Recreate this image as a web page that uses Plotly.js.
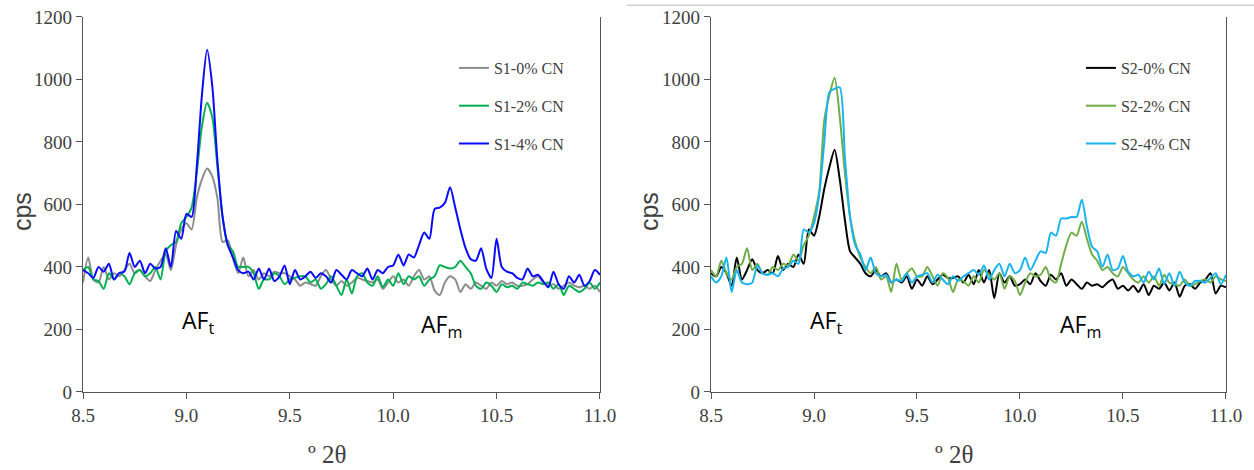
<!DOCTYPE html>
<html>
<head>
<meta charset="utf-8">
<script src="https://cdn.plot.ly/plotly-3.0.1.min.js"></script>
<style>
html,body{margin:0;padding:0;background:#fff;}
#wrap{position:relative;width:1254px;height:470px;overflow:hidden;}
#c1{position:absolute;left:0;top:0;width:627px;height:470px;}
#c2{position:absolute;left:627px;top:0;width:627px;height:470px;}
</style>
</head>
<body>
<div id="wrap"><div id="c1"></div><div id="c2"></div></div>
<script>
const twoTheta = [8.5,8.525,8.55,8.575,8.6,8.625,8.65,8.675,8.7,8.725,8.75,8.775,8.8,8.825,8.85,8.875,8.9,8.925,8.95,8.975,
9.0,9.025,9.05,9.075,9.1,9.125,9.15,9.175,9.2,9.225,9.25,9.275,9.3,9.325,9.35,9.375,9.4,9.425,9.45,9.475,
9.5,9.525,9.55,9.575,9.6,9.625,9.65,9.675,9.7,9.725,9.75,9.775,9.8,9.825,9.85,9.875,9.9,9.925,9.95,9.975,
10.0,10.025,10.05,10.075,10.1,10.125,10.15,10.175,10.2,10.225,10.25,10.275,10.3,10.325,10.35,10.375,10.4,10.425,10.45,10.475,
10.5,10.525,10.55,10.575,10.6,10.625,10.65,10.675,10.7,10.725,10.75,10.775,10.8,10.825,10.85,10.875,10.9,10.925,10.95,10.975,11.0];

const s1_0 = [350,430,360,350,400,360,380,370,390,410,380,390,370,355,390,420,440,390,470,520,
540,520,620,680,715,690,620,480,485,430,380,430,370,390,360,380,370,385,380,380,
370,360,340,350,345,340,370,390,360,340,355,340,350,365,360,355,350,360,330,350,
370,350,360,340,370,390,360,370,325,310,350,370,360,320,345,330,350,340,330,350,
340,355,345,350,340,340,345,360,370,350,340,345,330,340,350,340,335,340,330,340,320];

const s1_2 = [390,400,360,355,330,380,360,380,370,345,380,390,370,380,400,360,450,470,480,540,
560,590,700,850,925,880,720,560,470,450,400,400,400,380,330,360,360,380,370,345,
360,365,370,370,350,360,330,345,370,340,310,360,315,370,380,350,340,370,335,360,
340,380,345,370,360,370,340,360,370,405,400,395,400,420,400,380,340,330,350,340,
320,345,335,340,330,350,345,340,350,345,350,330,345,310,340,330,320,330,350,330,350];

const s1_4 = [390,380,365,400,385,410,360,380,385,445,400,420,380,410,395,400,460,400,515,490,
570,560,720,950,1095,980,740,560,470,430,390,380,385,360,395,360,395,355,370,405,
345,390,360,370,385,365,380,370,350,390,375,360,390,380,370,395,360,390,380,400,
405,440,405,440,430,470,510,490,585,590,605,655,590,520,460,425,420,460,395,365,
490,400,385,380,365,360,395,370,375,355,335,385,345,330,370,350,375,340,355,390,375];

const s2_0 = [380,370,400,380,340,430,360,390,425,390,380,390,380,435,390,410,400,440,410,520,
500,560,650,720,775,680,550,450,430,410,380,370,390,370,380,350,360,350,370,330,
360,340,370,345,360,375,365,365,370,350,375,345,390,350,390,300,380,350,370,340,
345,360,345,380,355,340,375,360,380,340,360,345,330,350,340,345,335,350,360,330,
340,325,340,320,345,310,340,330,350,325,350,305,340,345,330,350,360,380,315,340,335];

const s2_2 = [390,370,420,380,360,400,410,460,390,410,380,375,400,390,410,405,440,420,470,500,
560,640,870,950,1005,880,700,560,480,430,400,380,400,360,370,320,410,360,380,395,
370,370,400,370,340,380,365,320,360,355,340,370,350,390,375,360,380,330,370,355,
310,350,380,370,375,400,360,350,410,470,510,500,545,490,440,420,390,400,380,370,
400,380,360,350,370,350,370,340,375,350,345,340,360,340,345,355,360,350,370,360,355];

const s2_4 = [370,350,370,430,320,390,350,345,350,405,380,375,380,370,395,400,420,410,520,510,
540,630,800,960,970,975,750,560,470,440,390,430,380,370,375,350,360,355,380,350,
370,375,380,350,375,360,345,370,355,370,380,390,375,405,360,390,410,370,410,380,
390,430,390,420,450,445,510,500,555,555,560,560,615,530,465,450,400,440,390,395,
435,385,370,375,350,385,360,395,345,380,340,385,350,340,355,355,350,365,380,345,375];

const names1 = ["S1-0% CN","S1-2% CN","S1-4% CN"];
const names2 = ["S2-0% CN","S2-2% CN","S2-4% CN"];
const colors1 = ["#8c8c8c","#00b050","#0a0aff"];
const colors2 = ["#000000","#70ad47","#19b4f0"];

const SERIF = 'Liberation Serif';
const SANS = 'Liberation Sans';

function tr(y, name, color, grp){
  return {x: twoTheta, y: y, name: name, type:'scatter', mode:'lines',
    line:{color:color, width:2, shape:'spline', smoothing:0.7}, legendgroup:grp, hoverinfo:'skip'};
}

function makeLayout(dom, afmX, showTop){
  const layout = {
    width:627, height:470, margin:{l:0,r:0,t:0,b:0}, paper_bgcolor:'#fff', plot_bgcolor:'#fff',
    font:{family:SERIF, size:19, color:'#404040'},
    showlegend:true,
    xaxis:{domain:dom, range:[8.5,11.0], tick0:8.5, dtick:0.5, tickformat:'.1f',
      ticks:'outside', ticklen:6, tickcolor:'#555', showline:true, linecolor:'#555', linewidth:1.3,
      showgrid:false, zeroline:false, tickfont:{family:SERIF, size:19, color:'#404040'}},
    yaxis:{domain:[0.166,0.964], range:[0,1200], tick0:0, dtick:200,
      ticks:'outside', ticklen:6, tickcolor:'#555', showline:true, linecolor:'#555', linewidth:1.3, mirror:true,
      showgrid:false, zeroline:false, tickfont:{family:SERIF, size:19, color:'#404040'}},
    legend:{x:0.724, y:0.8915, xanchor:'left', yanchor:'top', font:{family:SERIF, size:16, color:'#404040'},
      bgcolor:'rgba(0,0,0,0)', traceorder:'grouped', tracegroupgap:14},
    annotations:[
      {text:'AF<sub>t</sub>', x:9.057, y:224, xref:'x', yref:'y', showarrow:false, xanchor:'center', yanchor:'middle',
        font:{family:'Open Sans', size:23, color:'#000'}},
      {text:'AF<sub>m</sub>', x:afmX, y:214, xref:'x', yref:'y', showarrow:false, xanchor:'center', yanchor:'middle',
        font:{family:'Open Sans', size:23, color:'#000'}},
      {text:'cps', x:0.036, y:0.55, xref:'paper', yref:'paper', showarrow:false, xanchor:'center', yanchor:'middle',
        textangle:-90, font:{family:SANS, size:25, color:'#404040'}},
      {text:'º 2θ', x:0.522, y:0.032, xref:'paper', yref:'paper', showarrow:false, xanchor:'center', yanchor:'middle',
        font:{family:SERIF, size:25, color:'#404040'}}
    ],
    shapes:[]
  };
  if (showTop) {
    layout.shapes.push({type:'line', xref:'paper', yref:'paper', x0:0, x1:1, y0:0.989, y1:0.989,
      line:{color:'#d0d0d0', width:1.5}});
  }
  return layout;
}

const data1 = [tr(s1_0,names1[0],colors1[0],'a'), tr(s1_2,names1[1],colors1[1],'b'), tr(s1_4,names1[2],colors1[2],'c')];
const data2 = [tr(s2_0,names2[0],colors2[0],'d'), tr(s2_2,names2[1],colors2[1],'e'), tr(s2_4,names2[2],colors2[2],'f')];

Plotly.newPlot('c1', data1, makeLayout([0.1324,0.9569], 10.236, false), {displayModeBar:false});
Plotly.newPlot('c2', data2, makeLayout([0.134,0.9553], 10.296, true), {displayModeBar:false});
</script>
</body>
</html>
